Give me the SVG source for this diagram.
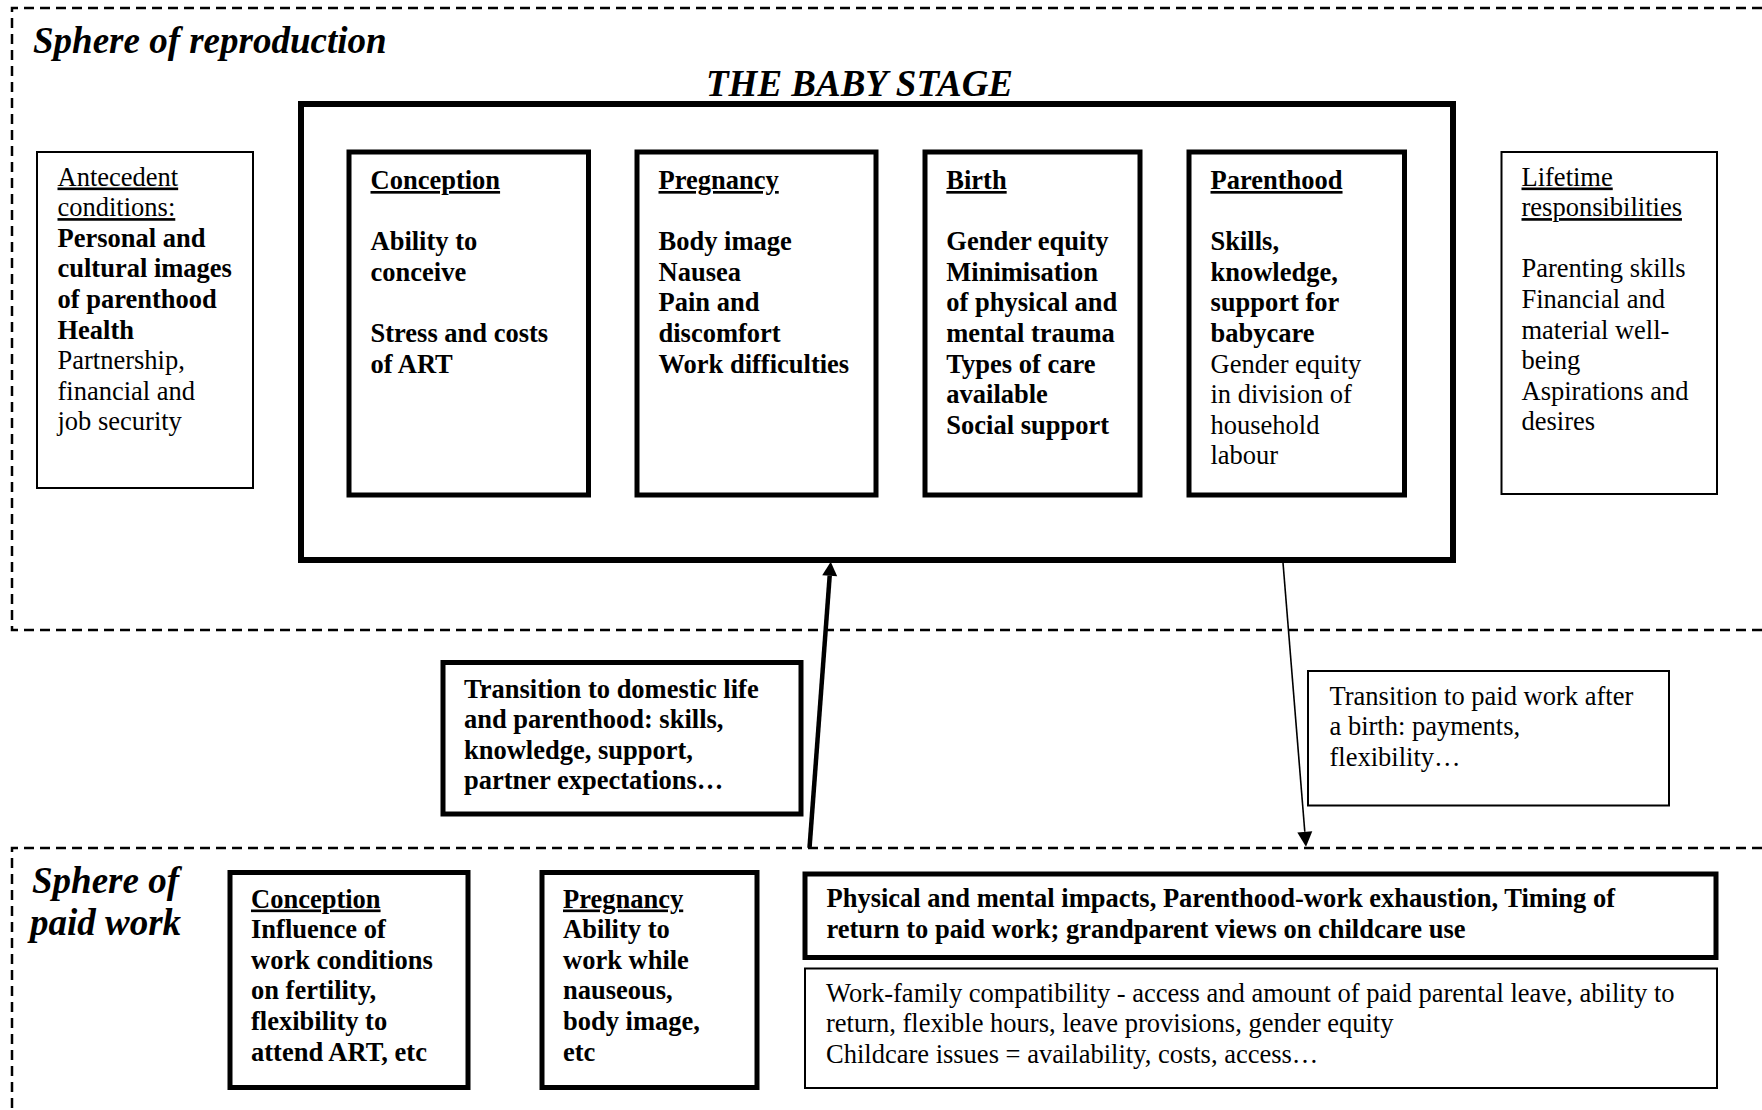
<svg xmlns="http://www.w3.org/2000/svg" width="1762" height="1110" viewBox="0 0 1762 1110">
<defs>
<style>
text{font-family:"Liberation Serif","Times New Roman",serif;font-size:26.5px;fill:#000}
.b{font-weight:bold}
.u{text-decoration:underline}
.title{font-size:37px;font-weight:bold;font-style:italic}
.sphere{fill:none;stroke:#000;stroke-width:2.5;stroke-dasharray:10 6}
.thick{fill:#fff;stroke:#000;stroke-width:6}
.med{fill:#fff;stroke:#000;stroke-width:5}
.thin{fill:#fff;stroke:#000;stroke-width:2}
</style>
<marker id="ahBig" markerUnits="userSpaceOnUse" viewBox="0 0 14 15" refX="0" refY="7.5" markerWidth="14" markerHeight="15" orient="auto" overflow="visible">
<path d="M0,0 L14,7.5 L0,15 z" fill="#000"/>
</marker>
<marker id="ahSmall" markerUnits="userSpaceOnUse" viewBox="0 0 15 15" refX="0" refY="7.5" markerWidth="15" markerHeight="15" orient="auto" overflow="visible">
<path d="M0,0 L15,7.5 L0,15 z" fill="#000"/>
</marker>
</defs>
<rect width="1762" height="1110" fill="#fff"/>

<g id="sphere-reproduction">
<path class="sphere" d="M1762,8 H12 V630 H1762"/>
<text class="title" x="33" y="53">Sphere of reproduction</text>
</g>

<g id="sphere-paid-work">
<path class="sphere" d="M1762,848 H12 V1112"/>
<text class="title" x="32" y="893">Sphere of</text>
<text class="title" x="30" y="935">paid work</text>
</g>

<g id="baby-stage">
<text class="title" x="706" y="96">THE BABY STAGE</text>
<rect class="thick" x="301" y="104" width="1152" height="456"/>
</g>

<g id="antecedent">
<rect class="thin" x="37" y="152" width="216" height="336"/>
<text x="57.5">
<tspan class="u" x="57.5" y="185.5">Antecedent</tspan>
<tspan class="u" x="57.5" y="216.1">conditions:</tspan>
<tspan class="b" x="57.5" y="246.7">Personal and</tspan>
<tspan class="b" x="57.5" y="277.3">cultural images</tspan>
<tspan class="b" x="57.5" y="307.9">of parenthood</tspan>
<tspan class="b" x="57.5" y="338.5">Health</tspan>
<tspan x="57.5" y="369.1">Partnership,</tspan>
<tspan x="57.5" y="399.7">financial and</tspan>
<tspan x="57.5" y="430.3">job security</tspan>
</text>
</g>

<g id="conception">
<rect class="med" x="349" y="152" width="239.5" height="343"/>
<text class="b">
<tspan class="u" x="370.5" y="189">Conception</tspan>
<tspan x="370.5" y="250.2">Ability to</tspan>
<tspan x="370.5" y="280.8">conceive</tspan>
<tspan x="370.5" y="342">Stress and costs</tspan>
<tspan x="370.5" y="372.6">of ART</tspan>
</text>
</g>

<g id="pregnancy">
<rect class="med" x="637" y="152" width="239" height="343"/>
<text class="b">
<tspan class="u" x="658.5" y="189">Pregnancy</tspan>
<tspan x="658.5" y="250.2">Body image</tspan>
<tspan x="658.5" y="280.8">Nausea</tspan>
<tspan x="658.5" y="311.4">Pain and</tspan>
<tspan x="658.5" y="342">discomfort</tspan>
<tspan x="658.5" y="372.6">Work difficulties</tspan>
</text>
</g>

<g id="birth">
<rect class="med" x="925" y="152" width="215" height="343"/>
<text class="b">
<tspan class="u" x="946.3" y="189">Birth</tspan>
<tspan x="946.3" y="250.2">Gender equity</tspan>
<tspan x="946.3" y="280.8">Minimisation</tspan>
<tspan x="946.3" y="311.4">of physical and</tspan>
<tspan x="946.3" y="342">mental trauma</tspan>
<tspan x="946.3" y="372.6">Types of care</tspan>
<tspan x="946.3" y="403.2">available</tspan>
<tspan x="946.3" y="433.8">Social support</tspan>
</text>
</g>

<g id="parenthood">
<rect class="med" x="1189" y="152" width="215.5" height="343"/>
<text>
<tspan class="b u" x="1210.5" y="189">Parenthood</tspan>
<tspan class="b" x="1210.5" y="250.2">Skills,</tspan>
<tspan class="b" x="1210.5" y="280.8">knowledge,</tspan>
<tspan class="b" x="1210.5" y="311.4">support for</tspan>
<tspan class="b" x="1210.5" y="342">babycare</tspan>
<tspan x="1210.5" y="372.6">Gender equity</tspan>
<tspan x="1210.5" y="403.2">in division of</tspan>
<tspan x="1210.5" y="433.8">household</tspan>
<tspan x="1210.5" y="464.4">labour</tspan>
</text>
</g>

<g id="lifetime">
<rect class="thin" x="1501.5" y="152" width="215.5" height="342"/>
<text>
<tspan class="u" x="1521.5" y="185.5">Lifetime</tspan>
<tspan class="u" x="1521.5" y="216.1">responsibilities</tspan>
<tspan x="1521.5" y="277.3">Parenting skills</tspan>
<tspan x="1521.5" y="307.9">Financial and</tspan>
<tspan x="1521.5" y="338.5">material well-</tspan>
<tspan x="1521.5" y="369.1">being</tspan>
<tspan x="1521.5" y="399.7">Aspirations and</tspan>
<tspan x="1521.5" y="430.3">desires</tspan>
</text>
</g>

<g id="transition-domestic">
<rect class="med" x="443" y="662.5" width="358" height="151.5"/>
<text class="b">
<tspan x="464" y="698">Transition to domestic life</tspan>
<tspan x="464" y="728.3">and parenthood: skills,</tspan>
<tspan x="464" y="758.6">knowledge, support,</tspan>
<tspan x="464" y="789">partner expectations…</tspan>
</text>
</g>

<g id="transition-paid">
<rect class="thin" x="1308" y="671" width="361" height="134.5"/>
<text>
<tspan x="1329.5" y="704.5">Transition to paid work after</tspan>
<tspan x="1329.5" y="735">a birth: payments,</tspan>
<tspan x="1329.5" y="765.5">flexibility…</tspan>
</text>
</g>

<g id="work-conception">
<rect class="med" x="230" y="872.5" width="238" height="215"/>
<text class="b">
<tspan class="u" x="251" y="907.5">Conception</tspan>
<tspan x="251" y="938.1">Influence of</tspan>
<tspan x="251" y="968.7">work conditions</tspan>
<tspan x="251" y="999.3">on fertility,</tspan>
<tspan x="251" y="1029.9">flexibility to</tspan>
<tspan x="251" y="1060.5">attend ART, etc</tspan>
</text>
</g>

<g id="work-pregnancy">
<rect class="med" x="542" y="872.5" width="215" height="215"/>
<text class="b">
<tspan class="u" x="563" y="907.5">Pregnancy</tspan>
<tspan x="563" y="938.1">Ability to</tspan>
<tspan x="563" y="968.7">work while</tspan>
<tspan x="563" y="999.3">nauseous,</tspan>
<tspan x="563" y="1029.9">body image,</tspan>
<tspan x="563" y="1060.5">etc</tspan>
</text>
</g>

<g id="work-impacts">
<rect class="med" x="805" y="874" width="911" height="83.5"/>
<text class="b">
<tspan x="826.5" y="907">Physical and mental impacts, Parenthood-work exhaustion, Timing of</tspan>
<tspan x="826.5" y="938">return to paid work; grandparent views on childcare use</tspan>
</text>
</g>

<g id="work-family">
<rect class="thin" x="805" y="968.5" width="912" height="119.5"/>
<text>
<tspan x="826" y="1001.5">Work-family compatibility - access and amount of paid parental leave, ability to</tspan>
<tspan x="826" y="1032">return, flexible hours, leave provisions, gender equity</tspan>
<tspan x="826" y="1062.5">Childcare issues = availability, costs, access…</tspan>
</text>
</g>

<g id="connectors">
<line x1="809.5" y1="848" x2="829.7" y2="575.7" stroke="#000" stroke-width="4.5" marker-end="url(#ahBig)"/>
<line x1="1283" y1="562.7" x2="1304.8" y2="831.8" stroke="#000" stroke-width="1.6" marker-end="url(#ahSmall)"/>
</g>
</svg>
